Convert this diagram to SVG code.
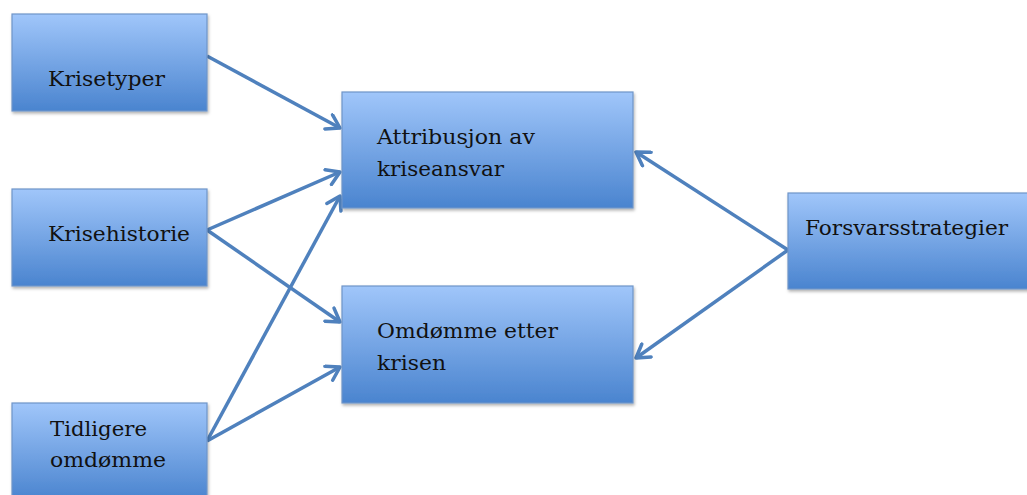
<svg xmlns="http://www.w3.org/2000/svg" width="1027" height="495" viewBox="0 0 1027 495">
<style>
.box{fill:url(#g);stroke:#6f95c8;stroke-width:1.2;filter:url(#sh)}
.t{font-family:"DejaVu Serif","Liberation Serif",serif;font-size:20px;fill:#111}
.c{stroke:#4f81bd;stroke-width:3.5;fill:none;marker-end:url(#a)}
</style>
<defs>
<linearGradient id="g" x1="0" y1="0" x2="0" y2="1">
<stop offset="0" stop-color="#a0c6fa"/>
<stop offset="1" stop-color="#4a84cf"/>
</linearGradient>
<filter id="sh" x="-10%" y="-10%" width="120%" height="130%">
<feDropShadow dx="1" dy="2" stdDeviation="1.5" flood-color="#000" flood-opacity="0.3"/>
</filter>
<marker id="a" viewBox="0 0 12 12" refX="10" refY="6" markerWidth="5.5" markerHeight="5.5" orient="auto" markerUnits="strokeWidth">
<path d="M2,1 L10,6 L2,11" fill="none" stroke="#4f81bd" stroke-width="2.2" stroke-linecap="round" stroke-linejoin="round"/>
</marker>
</defs>
<g id="connectors">
<line class="c" x1="207" y1="56" x2="340" y2="128"/>
<line class="c" x1="207" y1="230" x2="340" y2="172"/>
<line class="c" x1="207" y1="230" x2="340" y2="322"/>
<line class="c" x1="207" y1="441" x2="340" y2="196"/>
<line class="c" x1="207" y1="441" x2="340" y2="367"/>
<line class="c" x1="788" y1="250" x2="636" y2="152"/>
<line class="c" x1="788" y1="250" x2="636" y2="358"/>
</g>
<g id="krisetyper"><rect class="box" x="12" y="14" width="195" height="97"/><text class="t" x="48" y="86" textLength="117" lengthAdjust="spacingAndGlyphs">Krisetyper</text></g>
<g id="krisehistorie"><rect class="box" x="12" y="189" width="195" height="97"/><text class="t" x="48" y="241" textLength="142" lengthAdjust="spacingAndGlyphs">Krisehistorie</text></g>
<g id="tidligere"><rect class="box" x="12" y="403" width="195" height="97"/><text class="t" x="50" y="436" textLength="97" lengthAdjust="spacingAndGlyphs">Tidligere</text><text class="t" x="50" y="467" textLength="116" lengthAdjust="spacingAndGlyphs">omdømme</text></g>
<g id="attribusjon"><rect class="box" x="342" y="92" width="291" height="116"/><text class="t" x="377" y="144" textLength="158" lengthAdjust="spacingAndGlyphs">Attribusjon av</text><text class="t" x="377" y="176" textLength="127" lengthAdjust="spacingAndGlyphs">kriseansvar</text></g>
<g id="omdomme"><rect class="box" x="342" y="286" width="291" height="117"/><text class="t" x="377" y="338" textLength="181" lengthAdjust="spacingAndGlyphs">Omdømme etter</text><text class="t" x="377" y="370" textLength="69" lengthAdjust="spacingAndGlyphs">krisen</text></g>
<g id="forsvar"><rect class="box" x="788" y="193" width="245" height="96"/><text class="t" x="805" y="235" textLength="203" lengthAdjust="spacingAndGlyphs">Forsvarsstrategier</text></g>
</svg>
